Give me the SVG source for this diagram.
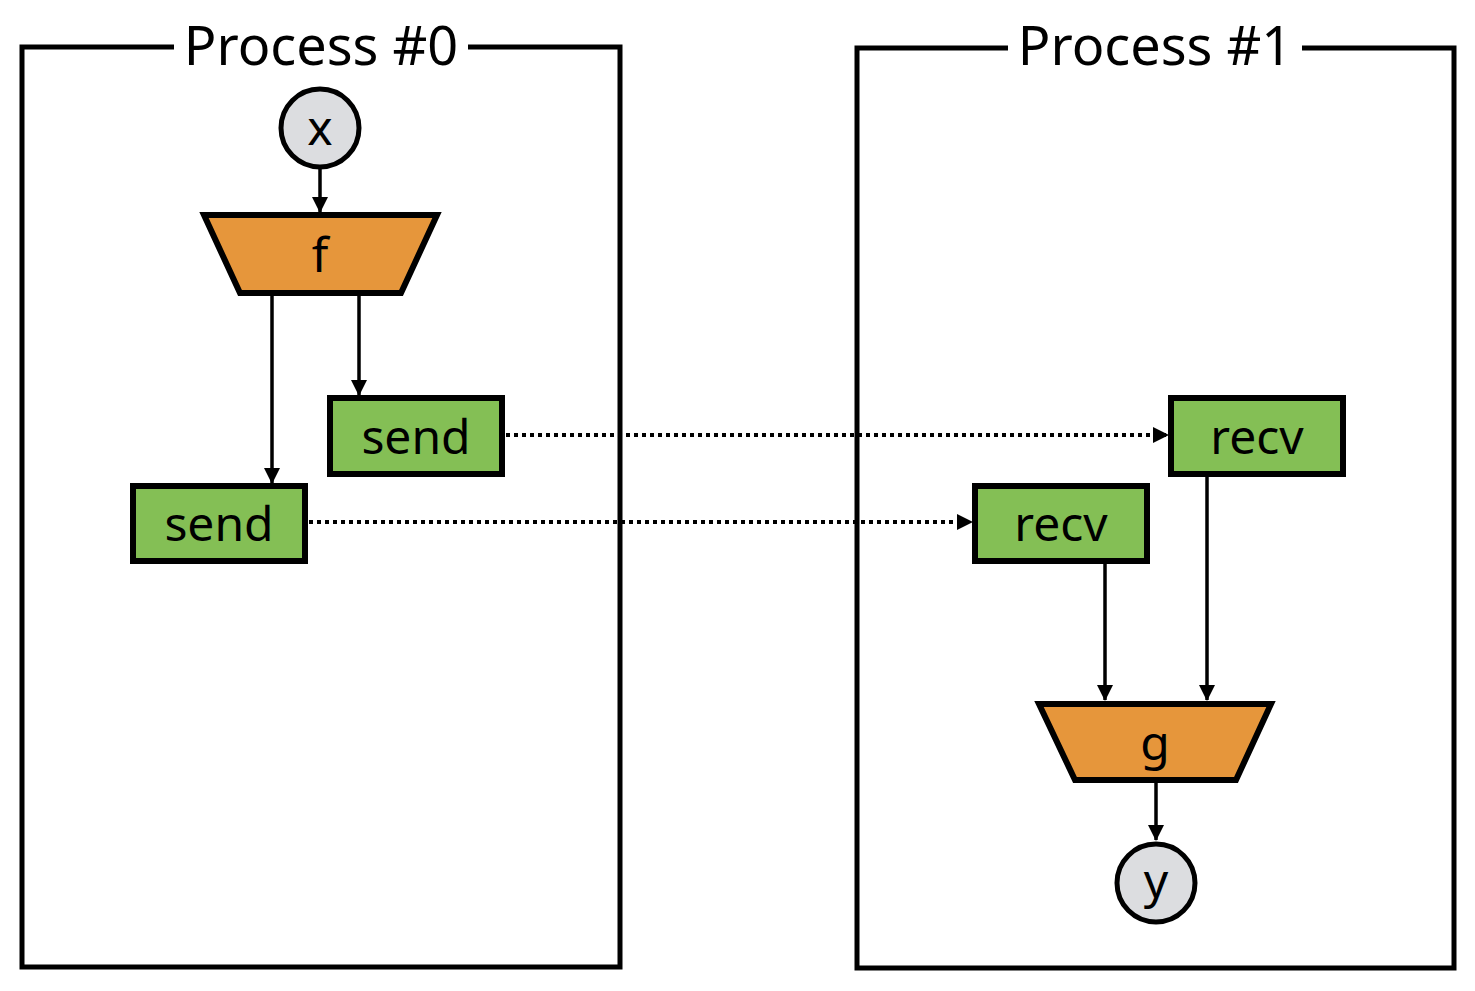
<svg xmlns="http://www.w3.org/2000/svg" width="1475" height="991" viewBox="0 0 1475 991">
<style>
.frame{fill:none;stroke:#000;stroke-width:5}
.title{font-family:"Noto Sans","Noto Sans CJK JP",sans-serif;font-size:54px;fill:#000;text-anchor:middle}
.lbl{font-family:"Noto Sans","Noto Sans CJK JP",sans-serif;font-size:48px;fill:#000;text-anchor:middle}
.op{fill:#e6963b;stroke:#000;stroke-width:6;stroke-linejoin:miter}
.comm{fill:#84bf55;stroke:#000;stroke-width:6}
.var{fill:#dcdde0;stroke:#000;stroke-width:5}
.edge{fill:none;stroke:#000;stroke-width:3.5}
.msg{fill:none;stroke:#000;stroke-width:4;stroke-dasharray:4 4}
</style>
<defs>
<marker id="ah" markerUnits="userSpaceOnUse" markerWidth="16" markerHeight="16" viewBox="0 0 16 16" refX="15" refY="8" orient="auto">
<path d="M0,0 L16,8 L0,16 Z" fill="#000"/>
</marker>
</defs>
<g id="process0">
<path class="frame" d="M174,47 L22,47 L22,967 L620,967 L620,47 L468,47"/>
<text class="title" x="321" y="65">Process #0</text>
</g>
<g id="process1">
<path class="frame" d="M1008,48 L857,48 L857,968 L1454,968 L1454,48 L1302,48"/>
<text class="title" x="1155" y="65">Process #1</text>
</g>
<g id="connectors">
<line class="edge" x1="320" y1="168" x2="320" y2="212" marker-end="url(#ah)"/>
<line class="edge" x1="272" y1="293" x2="272" y2="483" marker-end="url(#ah)"/>
<line class="edge" x1="359" y1="293" x2="359" y2="395" marker-end="url(#ah)"/>
<line class="msg" x1="506" y1="435" x2="1168" y2="435" marker-end="url(#ah)"/>
<line class="msg" x1="309" y1="522" x2="972" y2="522" marker-end="url(#ah)"/>
<line class="edge" x1="1105" y1="562" x2="1105" y2="700" marker-end="url(#ah)"/>
<line class="edge" x1="1207" y1="475" x2="1207" y2="700" marker-end="url(#ah)"/>
<line class="edge" x1="1156" y1="781" x2="1156" y2="840" marker-end="url(#ah)"/>
</g>
<g id="node-x">
<circle class="var" cx="320" cy="128" r="39"/>
<text class="lbl" x="320" y="145">x</text>
</g>
<g id="node-f">
<polygon class="op" points="204,215 437,215 401,293 240,293"/>
<text class="lbl" x="320" y="272">f</text>
</g>
<g id="node-send1">
<rect class="comm" x="330" y="398" width="172" height="76"/>
<text class="lbl" x="416" y="454">send</text>
</g>
<g id="node-send0">
<rect class="comm" x="133" y="486" width="172" height="75"/>
<text class="lbl" x="219" y="541">send</text>
</g>
<g id="node-recv1">
<rect class="comm" x="1171" y="398" width="172" height="76"/>
<text class="lbl" x="1257" y="454">recv</text>
</g>
<g id="node-recv0">
<rect class="comm" x="975" y="486" width="172" height="75"/>
<text class="lbl" x="1061" y="541">recv</text>
</g>
<g id="node-g">
<polygon class="op" points="1039,704 1271,704 1236,780 1075,780"/>
<text class="lbl" x="1155" y="760">g</text>
</g>
<g id="node-y">
<circle class="var" cx="1156" cy="883" r="39"/>
<text class="lbl" x="1156" y="898">y</text>
</g>
</svg>
